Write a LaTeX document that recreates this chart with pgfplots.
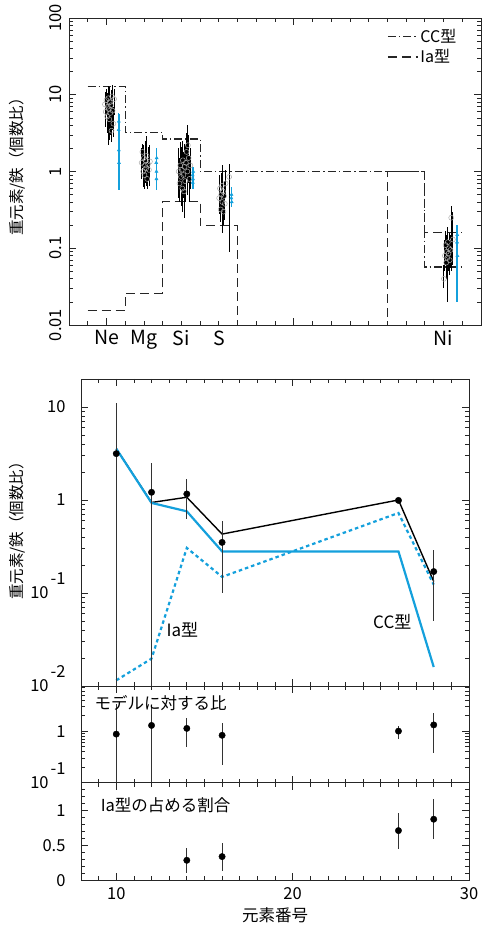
\documentclass[border=0pt]{standalone}
\usepackage{fontspec}
\setmainfont{Noto Sans CJK JP}
\usepackage{pgfplots}
\usepackage{pgfplotstable}
\pgfplotsset{compat=1.18}
\definecolor{cy}{RGB}{20,160,220}
\newcommand{\fs}[1]{\fontsize{#1bp}{#1bp}\selectfont}
\newcommand{\tsup}[1]{\hspace{2bp}\smash{\raisebox{14bp}{#1}}\hspace{-11bp}}

% top panel: individual measurements (black)
\pgfplotstableread{
x y lo hi
9.92 7.5 4.5 11
9.96 6.0 3.8 9.5
10.00 8.5 5.5 12
10.04 5.2 3.2 8.5
10.07 7.0 4.5 10.5
10.10 9.0 6.0 13
10.12 6.5 2.2 10
10.15 4.8 2.6 8
10.18 8.0 5.0 12.5
10.21 5.8 3.0 9
10.24 7.3 4.2 11.5
10.27 3.4 2.4 6
10.30 9.5 6.5 13.5
10.33 6.2 3.5 9.5
10.37 4.2 2.8 7
10.41 8.8 5.5 12
11.88 1.3 0.8 2.0
11.92 1.8 1.1 2.3
11.96 1.0 0.62 1.6
12.00 1.5 0.9 2.2
12.03 0.9 0.6 1.4
12.06 1.2 0.7 1.9
12.09 1.4 0.85 2.5
12.12 1.1 0.65 1.7
12.15 1.6 0.95 2.9
12.18 0.8 0.6 1.3
12.22 1.25 0.75 2.1
12.27 1.05 0.65 1.6
12.32 1.35 0.8 2.2
13.86 1.0 0.45 2.0
13.90 0.7 0.4 1.5
13.94 1.2 0.6 2.4
13.98 0.85 0.35 1.7
14.02 1.05 0.5 2.1
14.05 0.6 0.3 1.2
14.08 1.4 0.7 2.5
14.11 0.9 0.45 1.8
14.14 0.55 0.25 1.1
14.17 1.15 0.55 2.3
14.20 0.75 0.4 1.4
14.24 1.3 0.65 2.2
14.28 1.8 0.8 3.2
14.32 1.0 0.5 1.9
14.35 2.2 1.0 4.0
14.39 1.5 0.7 3.0
14.43 0.8 0.4 1.6
14.48 1.2 0.6 2.0
16.02 0.45 0.28 0.75
16.06 0.6 0.35 0.9
16.10 0.32 0.22 0.55
16.13 0.5 0.3 0.8
16.16 0.65 0.4 0.95
16.19 0.4 0.25 0.65
16.22 0.55 0.16 1.2
16.25 0.3 0.2 0.5
16.28 0.48 0.3 0.75
16.32 0.38 0.23 0.6
16.36 0.7 0.45 1.05
16.55 0.85 0.09 1.25
28.02 0.04 0.03 0.06
28.07 0.08 0.05 0.13
28.11 0.11 0.06 0.17
28.14 0.065 0.04 0.1
28.17 0.09 0.05 0.15
28.20 0.075 0.02 0.19
28.23 0.12 0.07 0.18
28.26 0.085 0.05 0.13
28.29 0.1 0.06 0.16
28.33 0.07 0.045 0.12
28.37 0.095 0.055 0.15
28.41 0.25 0.05 0.35
28.50 0.13 0.06 0.3
}\blktab

% top panel: blue measurements
\pgfplotstableread{
x y lo hi
10.65 3.5 0.6 5.8
10.66 1.9 0.57 4.5
10.67 1.3 0.6 3.5
10.66 4.5 1.2 5.6
12.66 1.3 0.57 2.0
12.67 1.0 0.6 1.7
12.68 1.5 0.7 1.9
12.67 0.8 0.57 1.4
14.60 0.9 0.62 1.15
14.62 0.8 0.6 1.05
14.63 1.0 0.7 1.15
14.61 0.72 0.6 0.95
16.67 0.45 0.34 0.6
16.69 0.4 0.35 0.55
16.68 0.5 0.38 0.62
28.72 0.12 0.02 0.2
28.74 0.08 0.05 0.17
28.73 0.15 0.09 0.19
}\blutab

% middle panel data
\pgfplotstableread{
x y lo hi
10 3.15 0.005 11
12 1.21 0.005 2.5
14 1.16 0.63 1.7
16 0.35 0.1 0.6
26 0.99 0.95 1.04
28 0.17 0.05 0.29
}\midtab

% ratio to model
\pgfplotstableread{
x y lo hi
10 0.875 0.05 3.4
12 1.29 0.05 3.2
14 1.13 0.5 1.76
16 0.83 0.22 1.45
26 1.0 0.7 1.27
28 1.32 0.38 2.26
}\rattab

% Ia fraction
\pgfplotstableread{
x y lo hi
14 0.287 0.11 0.46
16 0.34 0.14 0.54
26 0.713 0.45 0.97
28 0.876 0.59 1.16
}\frctab

\pgfplotsset{
  myax/.style={scale only axis, anchor=south west, xmin=8, xmax=30,
    tick align=inside, axis line style={line width=0.9bp, black!85},
    every tick/.style={line width=0.7bp, black!85},
    major tick length=7bp, minor tick length=4bp,
    tick label style={font=\fs{16.5}}},
  mxt/.style={minor xtick={9,11,12,13,14,15,16,17,18,19,21,22,23,24,25,26,27,28,29}},
  ebar/.style={error bars/.cd, y dir=both, y explicit, error mark=none, error bar style={#1}},
}

\begin{document}
\begin{tikzpicture}
\path[use as bounding box] (0,0) rectangle (482bp,925bp);

% ---------------- top panel ----------------
\begin{axis}[myax, mxt, at={(69bp,600bp)}, width=412bp, height=307bp,
  ymode=log, ymin=0.01, ymax=100,
  xtick={10,20,30}, xticklabels={},
  extra x ticks={10,12,14,16,28}, extra x tick labels={Ne,Mg,Si,S,Ni},
  extra x tick style={major tick length=0pt, tick label style={font=\fs{19.5}, yshift=-2bp}},
  ytick={0.01,0.1,1,10,100}, yticklabels={0.01,0.1,1,10,100},
  minor ytick={0.02,0.03,0.04,0.05,0.06,0.07,0.08,0.09,0.2,0.3,0.4,0.5,0.6,0.7,0.8,0.9,2,3,4,5,6,7,8,9,20,30,40,50,60,70,80,90},
  yticklabel style={rotate=90, anchor=south}, yticklabel shift=4bp,
  ylabel={重元素/鉄（個数比）},
  ylabel style={at={(axis description cs:-0.126,0.528)}, anchor=center, font=\fs{15.5}},
  legend style={at={(0.772,0.972)}, anchor=north west, draw=none, fill=none,
    font=\fs{16}, inner sep=0pt, row sep=2bp},
  legend cell align=left,
  legend image code/.code={\draw[#1] (0bp,0bp) -- (30bp,0bp);},
]
\addplot[black!85, line width=1.1bp, dash pattern=on 8bp off 3bp on 1.5bp off 3bp]
  coordinates {(9,12.9)(11,12.9)(11,3.2)(13,3.2)(13,2.65)(15,2.65)(15,1.0)(27,1.0)(27,0.057)(29,0.057)};
\addlegendentry{CC型}
\addplot[black!85, line width=1.1bp, dash pattern=on 9bp off 5bp]
  coordinates {(9,0.0155)(11,0.0155)(11,0.026)(13,0.026)(13,0.41)(15,0.41)(15,0.196)(17,0.196)(17,0.004)(25,0.004)(25,1.0)(27,1.0)(27,0.16)(29,0.16)};
\addlegendentry{Ia型}
\addplot[forget plot, only marks, mark=o, mark size=2.5bp, gray!65, mark options={line width=0.5bp},
  ebar={black, line width=0.9bp}]
  table[x=x,y=y,y error plus expr=\thisrow{hi}-\thisrow{y},y error minus expr=\thisrow{y}-\thisrow{lo}] {\blktab};
\addplot[forget plot, only marks, mark=triangle*, mark size=1.8bp, cy,
  ebar={cy, line width=1.5bp}]
  table[x=x,y=y,y error plus expr=\thisrow{hi}-\thisrow{y},y error minus expr=\thisrow{y}-\thisrow{lo}] {\blutab};
\end{axis}

% ---------------- middle panel ----------------
\begin{axis}[myax, mxt, at={(81bp,239bp)}, width=388bp, height=307bp,
  ymode=log, ymin=0.01, ymax=20,
  xtick={10,20,30}, xticklabels={},
  ytick={0.01,0.1,1,10}, yticklabels={10\tsup{-2},10\tsup{-1},1,10},
  minor ytick={0.02,0.03,0.04,0.05,0.06,0.07,0.08,0.09,0.2,0.3,0.4,0.5,0.6,0.7,0.8,0.9,2,3,4,5,6,7,8,9},
  yticklabel shift=12bp,
  ylabel={重元素/鉄（個数比）},
  ylabel style={at={(axis description cs:-0.165,0.518)}, anchor=center, font=\fs{15.5}},
]
\addplot[black, line width=1.4bp] coordinates {(10,3.57)(12,0.94)(14,1.07)(16,0.43)(26,1.0)(28,0.133)};
\addplot[cy, line width=2.2bp] coordinates {(10,3.56)(12,0.93)(14,0.755)(16,0.28)(26,0.28)(28,0.016)};
\addplot[cy, line width=2.2bp, dash pattern=on 3.5bp off 3bp] coordinates {(10,0.0115)(12,0.0197)(14,0.305)(16,0.149)(26,0.725)(28,0.123)};
\addplot[only marks, mark=*, mark size=3.2bp, black, ebar={black!80, line width=0.8bp}]
  table[x=x,y=y,y error plus expr=\thisrow{hi}-\thisrow{y},y error minus expr=\thisrow{y}-\thisrow{lo}] {\midtab};
\node[font=\fs{17}] at (axis cs:13.75,0.04) {Ia型};
\node[font=\fs{17}] at (axis cs:25.65,0.049) {CC型};
\end{axis}

% ---------------- ratio panel ----------------
\begin{axis}[myax, mxt, at={(81bp,142.3bp)}, width=388bp, height=96.7bp,
  ymode=log, ymin=0.1, ymax=7.5,
  xtick={10,20,30}, xticklabels={},
  ytick={0.1,1}, yticklabels={10\tsup{-1},1},
  minor ytick={0.2,0.3,0.4,0.5,0.6,0.7,0.8,0.9,2,3,4,5,6,7},
  yticklabel shift=12bp,
]
\addplot[only marks, mark=*, mark size=3.2bp, black, ebar={black!80, line width=0.8bp}]
  table[x=x,y=y,y error plus expr=\thisrow{hi}-\thisrow{y},y error minus expr=\thisrow{y}-\thisrow{lo}] {\rattab};
\node[anchor=west, font=\fs{16.5}] at (rel axis cs:0.026,0.82) {モデルに対する比};
\end{axis}

% ---------------- fraction panel ----------------
\begin{axis}[myax, mxt, at={(81bp,44.7bp)}, width=388bp, height=97.6bp,
  ymin=0, ymax=1.4,
  xtick={10,20,30}, xticklabels={10,20,30},
  ytick={0,0.5,1}, yticklabels={0,0.5,1},
  minor ytick={0.1,0.2,0.3,0.4,0.6,0.7,0.8,0.9,1.1,1.2,1.3},
  yticklabel shift=12bp, xticklabel shift=4bp,
  xlabel={元素番号},
  xlabel style={at={(axis description cs:0.5,-0.356)}, anchor=center, font=\fs{16.5}},
]
\addplot[only marks, mark=*, mark size=3.2bp, black, ebar={black!80, line width=0.8bp}]
  table[x=x,y=y,y error plus expr=\thisrow{hi}-\thisrow{y},y error minus expr=\thisrow{y}-\thisrow{lo}] {\frctab};
\node[anchor=west, font=\fs{16.5}] at (rel axis cs:0.042,0.77) {Ia型の占める割合};
\end{axis}
\end{tikzpicture}
\end{document}
